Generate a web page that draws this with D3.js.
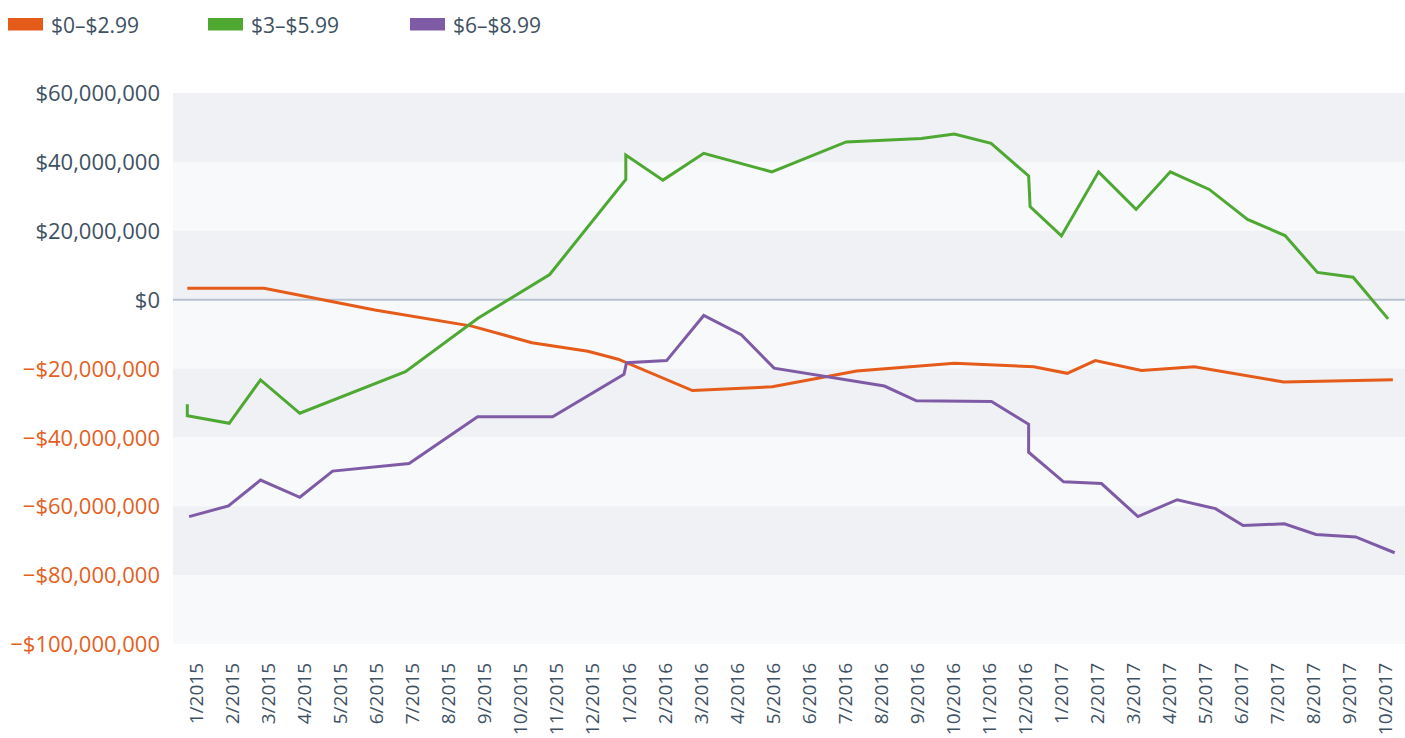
<!DOCTYPE html>
<html>
<head>
<meta charset="utf-8">
<script src="https://cdn.jsdelivr.net/npm/d3@7"></script>
<style>
  html, body { margin: 0; padding: 0; background: #ffffff; }
  svg { display: block; font-family: "Open Sans", "DejaVu Sans", sans-serif; }
</style>
</head>
<body>
<svg id="chart" width="1405" height="738"></svg>
<script>
// ---- data ----
const monthLabels = [
  "1/2015","2/2015","3/2015","4/2015","5/2015","6/2015","7/2015","8/2015","9/2015","10/2015","11/2015","12/2015",
  "1/2016","2/2016","3/2016","4/2016","5/2016","6/2016","7/2016","8/2016","9/2016","10/2016","11/2016","12/2016",
  "1/2017","2/2017","3/2017","4/2017","5/2017","6/2017","7/2017","8/2017","9/2017","10/2017"
];
const yTicks = [60e6, 40e6, 20e6, 0, -20e6, -40e6, -60e6, -80e6, -100e6];
const seriesNames = ["$0\u2013$2.99", "$3\u2013$5.99", "$6\u2013$8.99"];
const seriesColors = ["#e55b19", "#4ea832", "#7f5ba6"];

// x positions in months since 1/2015 (fractional), values in millions of dollars
const lowMonths  = [0, 2.11, 5.15, 7.81, 9.46, 11.0, 11.83, 13.87, 16.06, 18.38, 21.06, 23.24, 24.16, 24.93, 26.2, 27.65, 30.1, 33.1];
const lowValues  = [3.3, 3.3, -3.0, -7.7, -12.5, -15.0, -17.3, -26.4, -25.3, -20.7, -18.5, -19.5, -21.4, -17.7, -20.6, -19.5, -23.9, -23.3];

const midMonths  = [0, 0, 1.15, 2.01, 3.09, 5.99, 7.98, 9.95, 12.04, 12.04, 13.06, 14.18, 16.05, 18.09, 20.15, 21.06, 22.07, 23.1, 23.14, 24.0, 25.02, 26.05, 26.99, 28.06, 29.11, 30.14, 31.03, 32.01, 32.97];
const midValues  = [-30.4, -33.7, -35.9, -23.3, -33.0, -20.9, -5.4, 7.3, 34.9, 42.0, 34.7, 42.5, 37.1, 45.8, 46.8, 48.1, 45.4, 35.9, 27.0, 18.5, 37.1, 26.2, 37.1, 32.0, 23.3, 18.6, 7.9, 6.5, -5.6];

const highMonths = [0.05, 1.13, 2.01, 3.09, 3.99, 6.09, 7.97, 10.03, 11.99, 12.06, 13.16, 14.18, 15.21, 16.11, 19.14, 20.02, 22.08, 23.1, 23.1, 24.06, 25.1, 26.1, 27.18, 28.23, 28.99, 30.12, 30.99, 32.08, 33.15];
const highValues = [-63.0, -59.9, -52.4, -57.4, -49.8, -47.6, -34.0, -34.0, -21.7, -18.3, -17.7, -4.6, -10.2, -19.9, -25.1, -29.4, -29.6, -36.2, -44.3, -52.9, -53.4, -63.0, -58.1, -60.7, -65.6, -65.1, -68.2, -68.9, -73.5];

// ---- layout ----
const svg = d3.select("#chart");
const plotLeft = 173, plotRight = 1405, plotTop = 93, plotBottom = 644;

const y = d3.scaleLinear().domain([-100e6, 60e6]).range([plotBottom, plotTop]);
const x = d3.scaleLinear().domain([0, 33]).range([187.3, 1389.2]);
const xLab = d3.scalePoint().domain(monthLabels).range([196, 1385]);

const textColor = "#3e5163";
const negColor = "#e4601e";

// background bands
const bandEdges = d3.pairs(yTicks);
svg.append("g").selectAll("rect").data(bandEdges).join("rect")
  .attr("x", plotLeft)
  .attr("width", plotRight - plotLeft)
  .attr("y", d => y(d[0]))
  .attr("height", d => y(d[1]) - y(d[0]))
  .attr("fill", (d, i) => i % 2 === 0 ? "#f0f1f5" : "#f8f9fb");

// zero line
svg.append("line")
  .attr("x1", plotLeft).attr("x2", plotRight)
  .attr("y1", y(0)).attr("y2", y(0))
  .attr("stroke", "#b7c3d1").attr("stroke-width", 2);

// y axis labels
const fmt = v => (v < 0 ? "\u2212$" : "$") + d3.format(",")(Math.abs(v));
const yAxis = d3.axisLeft(y).tickValues(yTicks).tickSize(0).tickPadding(0).tickFormat(fmt);
const yg = svg.append("g").attr("transform", `translate(160,0)`).call(yAxis);
yg.select(".domain").remove();
yg.selectAll("text")
  .attr("font-size", 22)
  .attr("font-family", "\"Open Sans\", sans-serif")
  .attr("dy", "0.35em")
  .attr("fill", d => d < 0 ? negColor : textColor);

// x axis labels (rotated)
const xAxis = d3.axisBottom(xLab).tickSize(0).tickPadding(0);
const xg = svg.append("g").attr("transform", `translate(0,663)`).call(xAxis);
xg.select(".domain").remove();
xg.selectAll("text")
  .attr("font-size", 19)
  .attr("font-family", "\"Open Sans\", sans-serif")
  .attr("fill", textColor)
  .attr("text-anchor", "end")
  .attr("transform", "rotate(-90)")
  .attr("x", 0)
  .attr("y", 0)
  .attr("dy", "0.35em");

// lines
const series = [
  { months: lowMonths, values: lowValues },
  { months: midMonths, values: midValues },
  { months: highMonths, values: highValues }
];
const line = d3.line().x(d => x(d[0])).y(d => y(d[1] * 1e6));
svg.append("g").selectAll("path").data(series).join("path")
  .attr("d", s => line(d3.zip(s.months, s.values)))
  .attr("fill", "none")
  .attr("stroke", (s, i) => seriesColors[i])
  .attr("stroke-width", 3)
  .attr("stroke-linejoin", "miter");

// legend
const legendX = [8, 208, 410];
const lg = svg.append("g").selectAll("g").data(seriesNames).join("g")
  .attr("transform", (d, i) => `translate(${legendX[i]},0)`);
lg.append("rect").attr("x", 0).attr("y", 18).attr("width", 35).attr("height", 12.5)
  .attr("fill", (d, i) => seriesColors[i]);
lg.append("text").attr("x", 43).attr("y", 32.5)
  .attr("font-size", 21)
  .attr("fill", textColor)
  .text(d => d);
</script>
</body>
</html>
